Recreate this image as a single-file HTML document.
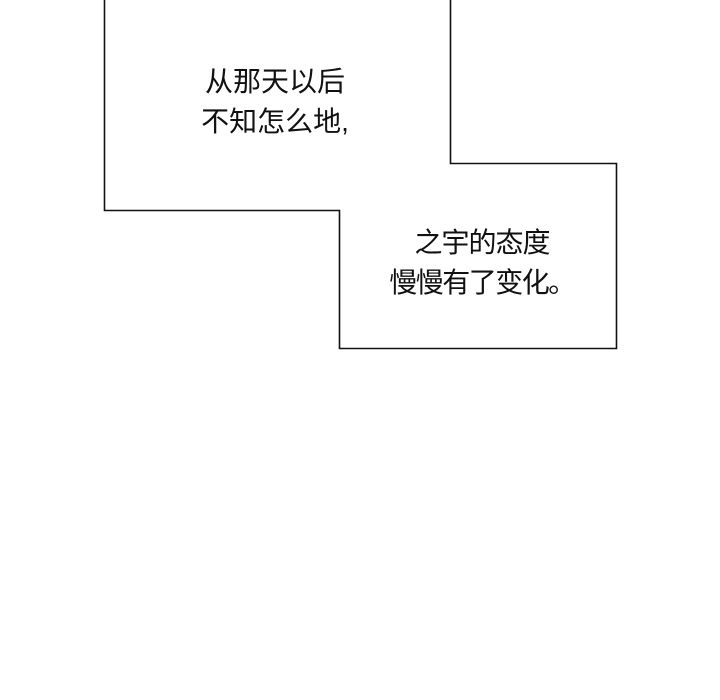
<!DOCTYPE html>
<html><head><meta charset="utf-8"><style>
html,body{margin:0;padding:0;background:#fff;}
body{width:720px;height:700px;position:relative;overflow:hidden;font-family:"Liberation Sans","Noto Sans CJK SC",sans-serif;color:#111;}
.t{position:absolute;font-size:28px;line-height:28px;white-space:nowrap;text-align:center;}
</style></head><body>
<svg width="720" height="700" style="position:absolute;left:0;top:0">
<polyline points="104.5,0 104.5,210.5 339.5,210.5 339.5,348.5 616.5,348.5 616.5,163.5 450.5,163.5 450.5,0" fill="none" stroke="#111" stroke-width="1.6"/>
</svg>
<div class="t" style="left:135px;width:280px;top:68px;">从那天以后</div>
<div class="t" style="left:135px;width:280px;top:108px;">不知怎么地,</div>
<div class="t" style="left:340px;width:284px;top:229px;letter-spacing:-1px;">之宇的态度</div>
<div class="t" style="left:340px;width:284px;top:269px;letter-spacing:-1.5px;">慢慢有了变化。</div>
</body></html>
